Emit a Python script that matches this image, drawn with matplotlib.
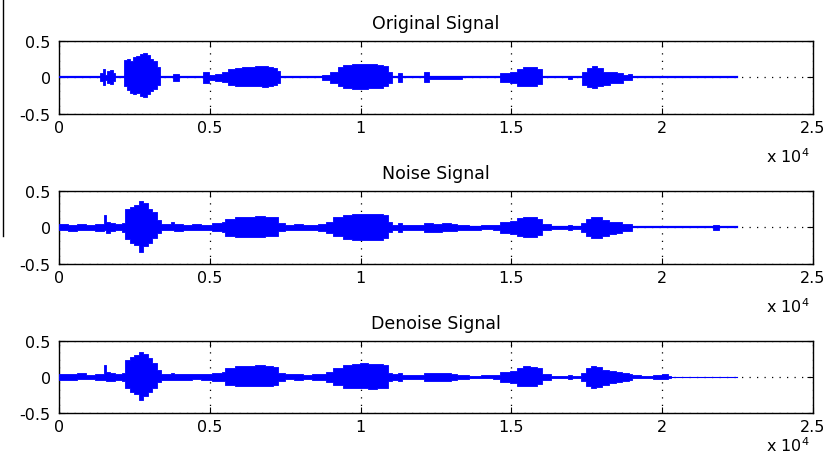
import matplotlib.pyplot as plt
from matplotlib.lines import Line2D

plt.rcParams["font.family"] = ["DejaVu Sans"]
plt.rcParams["axes.unicode_minus"] = False
plt.rcParams["mathtext.default"] = "regular"

titles = ["Original Signal", "Noise Signal", "Denoise Signal"]
signal_len = 22470
xticks = [0, 5000, 10000, 15000, 20000, 25000]
xtick_labels = ["0", "0.5", "1", "1.5", "2", "2.5"]
yticks = [-0.5, 0, 0.5]
ytick_labels = ["-0.5", "0", "0.5"]

# envelope of each waveform: sample index, upper and lower amplitude (held until next index)
orig_x = [0, 1360, 1450, 1540, 1600, 1700, 1800, 1860,
          2170, 2250, 2350, 2460, 2570, 2690, 2800, 2910, 3020, 3130, 3240, 3350,
          3790, 3980, 4770, 4970, 5170, 5390, 5610, 5840, 6060, 6280, 6500, 6720, 6940, 7110, 7220, 7330,
          8710, 8990, 9260, 9430, 9700, 9980, 10260, 10530, 10750, 10920, 11030,
          11230, 11380, 12100, 12260, 13370,
          14620, 14950, 15180, 15400, 15620, 15840, 16000, 16890, 17000,
          17330, 17500, 17660, 17830, 18050, 18270, 18490, 18710, 18880, 18990]
orig_hi = [0, 0.06, 0.11, 0.04, 0.09, 0.10, 0.06, 0,
           0.24, 0.25, 0.23, 0.28, 0.30, 0.32, 0.34, 0.31, 0.26, 0.23, 0.15, 0,
           0.05, 0, 0.08, 0.04, 0.05, 0.07, 0.11, 0.13, 0.14, 0.15, 0.16, 0.16, 0.15, 0.13, 0.09, 0,
           0.04, 0.08, 0.14, 0.17, 0.18, 0.19, 0.19, 0.17, 0.16, 0.08, 0,
           0.06, 0, 0.07, 0.02, 0,
           0.06, 0.07, 0.12, 0.14, 0.14, 0.11, 0, 0.02, 0,
           0.08, 0.13, 0.16, 0.13, 0.08, 0.07, 0.06, 0.04, 0.05, 0]
orig_lo = [0, -0.05, -0.10, -0.03, -0.08, -0.09, -0.05, 0,
           -0.11, -0.17, -0.21, -0.22, -0.21, -0.26, -0.27, -0.22, -0.19, -0.16, -0.10, 0,
           -0.05, 0, -0.07, -0.04, -0.05, -0.06, -0.10, -0.11, -0.12, -0.12, -0.12, -0.13, -0.11, -0.10, -0.07, 0,
           -0.03, -0.08, -0.12, -0.15, -0.16, -0.16, -0.15, -0.15, -0.12, -0.08, 0,
           -0.06, 0, -0.06, -0.02, 0,
           -0.06, -0.07, -0.11, -0.12, -0.12, -0.09, 0, -0.02, 0,
           -0.10, -0.13, -0.15, -0.12, -0.10, -0.08, -0.07, -0.04, -0.04, 0]

noisy_x = [0, 300, 600, 900, 1200, 1500, 1560, 1700, 1860, 2100,
           2200, 2350, 2500, 2650, 2800, 2950, 3100, 3250, 3380, 3700, 3800, 4100, 4400, 4700,
           5060, 5390, 5500, 5840, 6170, 6500, 6830, 7110, 7270, 7500, 7800, 8100, 8400, 8600,
           8850, 9100, 9430, 9700, 9980, 10260, 10530, 10750, 10920, 11030, 11230, 11380, 11700,
           12100, 12400, 12700, 13000, 13200, 13600, 14000, 14400,
           14620, 14950, 15180, 15400, 15620, 15840, 16000, 16300, 16890, 17000,
           17300, 17460, 17630, 17800, 18020, 18240, 18460, 18680, 18900, 19000, 21690, 21900]
noisy_hi = [0.05, 0.04, 0.05, 0.04, 0.05, 0.17, 0.08, 0.06, 0.05, 0.06,
            0.25, 0.28, 0.31, 0.36, 0.33, 0.26, 0.21, 0.10, 0.05, 0.07, 0.05, 0.04, 0.05, 0.04,
            0.06, 0.07, 0.12, 0.15, 0.15, 0.16, 0.15, 0.14, 0.06, 0.04, 0.05, 0.04, 0.04, 0.05,
            0.08, 0.14, 0.17, 0.18, 0.19, 0.19, 0.18, 0.17, 0.07, 0.04, 0.06, 0.04, 0.03,
            0.06, 0.05, 0.06, 0.05, 0.03, 0.02, 0.03, 0.03,
            0.08, 0.09, 0.13, 0.15, 0.14, 0.12, 0.05, 0.02, 0.03, 0.02,
            0.06, 0.12, 0.15, 0.14, 0.10, 0.08, 0.07, 0.05, 0.05, 0, 0.03, 0]
noisy_lo = [-0.04, -0.05, -0.04, -0.03, -0.05, -0.04, -0.07, -0.05, -0.04, -0.06,
            -0.16, -0.21, -0.24, -0.33, -0.26, -0.21, -0.15, -0.08, -0.04, -0.04, -0.05, -0.04, -0.04, -0.04,
            -0.05, -0.06, -0.12, -0.13, -0.13, -0.13, -0.12, -0.11, -0.05, -0.04, -0.04, -0.03, -0.04, -0.05,
            -0.08, -0.12, -0.16, -0.17, -0.17, -0.17, -0.17, -0.15, -0.06, -0.04, -0.06, -0.03, -0.03,
            -0.06, -0.06, -0.05, -0.05, -0.03, -0.03, -0.02, -0.03,
            -0.08, -0.09, -0.12, -0.13, -0.13, -0.10, -0.04, -0.02, -0.03, -0.02,
            -0.06, -0.12, -0.15, -0.14, -0.11, -0.09, -0.07, -0.05, -0.05, 0, -0.03, 0]

den_x = [0, 300, 600, 900, 1200, 1500, 1560, 1700, 1860, 2100,
         2200, 2350, 2500, 2650, 2800, 2950, 3100, 3250, 3380, 3700, 3800, 4100, 4400, 4700,
         5060, 5390, 5500, 5840, 6170, 6500, 6830, 7110, 7270, 7500, 7800, 8100, 8400, 8600,
         8850, 9100, 9430, 9700, 9980, 10260, 10530, 10750, 10920, 11030, 11230, 11380, 11700,
         12100, 12400, 12700, 13000, 13200, 13600, 14000, 14400,
         14620, 14950, 15180, 15400, 15620, 15840, 16000, 16300, 16890, 17000,
         17300, 17460, 17630, 17800, 18020, 18240, 18460, 18680, 18900,
         19000, 19300, 19700, 20000, 20200, 20300]
den_hi = [0.04, 0.04, 0.05, 0.03, 0.04, 0.16, 0.07, 0.05, 0.04, 0.05,
          0.24, 0.28, 0.31, 0.35, 0.32, 0.26, 0.20, 0.10, 0.04, 0.06, 0.04, 0.04, 0.04, 0.04,
          0.05, 0.07, 0.12, 0.15, 0.15, 0.16, 0.15, 0.14, 0.05, 0.04, 0.04, 0.03, 0.04, 0.04,
          0.07, 0.13, 0.17, 0.18, 0.19, 0.18, 0.18, 0.17, 0.06, 0.04, 0.06, 0.03, 0.03,
          0.05, 0.05, 0.06, 0.04, 0.03, 0.02, 0.03, 0.03,
          0.07, 0.08, 0.13, 0.15, 0.14, 0.12, 0.04, 0.02, 0.03, 0.02,
          0.05, 0.12, 0.15, 0.14, 0.10, 0.08, 0.07, 0.05, 0.04,
          0.03, 0.02, 0.03, 0.04, 0.02, 0]
den_lo = [-0.04, -0.04, -0.03, -0.03, -0.04, -0.04, -0.06, -0.05, -0.04, -0.05,
          -0.15, -0.21, -0.24, -0.32, -0.26, -0.21, -0.15, -0.07, -0.04, -0.04, -0.04, -0.04, -0.03, -0.04,
          -0.05, -0.06, -0.11, -0.12, -0.12, -0.13, -0.12, -0.11, -0.05, -0.03, -0.04, -0.03, -0.04, -0.04,
          -0.07, -0.11, -0.15, -0.16, -0.16, -0.17, -0.16, -0.15, -0.05, -0.04, -0.05, -0.03, -0.03,
          -0.05, -0.06, -0.05, -0.04, -0.03, -0.02, -0.02, -0.03,
          -0.07, -0.08, -0.12, -0.13, -0.13, -0.10, -0.04, -0.02, -0.03, -0.02,
          -0.06, -0.12, -0.15, -0.14, -0.11, -0.09, -0.07, -0.05, -0.04,
          -0.02, -0.02, -0.03, -0.03, -0.02, 0]

panels = [(orig_x, orig_hi, orig_lo, 1.6), (noisy_x, noisy_hi, noisy_lo, 1.6), (den_x, den_hi, den_lo, 0.8)]
rects = [(0.0713, 0.7522, 0.9117, 0.1573),
         (0.0713, 0.4289, 0.9117, 0.1573),
         (0.0713, 0.1078, 0.9117, 0.1552)]
mult_y = [-0.66, -0.66, -0.53]

BLUE = "#0000ff"

fig = plt.figure(figsize=(8.27, 4.64), dpi=100)

for (x, hi, lo, lw), rect, title, my in zip(panels, rects, titles, mult_y):
    ax = fig.add_axes(rect)
    ax.fill_between(x, lo, hi, step="post", color=BLUE, lw=0.6, zorder=3)
    ax.plot([0, signal_len], [0, 0], color=BLUE, lw=lw, zorder=3)
    ax.set_xlim(0, 25000)
    ax.set_ylim(-0.5, 0.5)
    ax.set_xticks(xticks)
    ax.set_xticklabels(xtick_labels)
    ax.set_yticks(yticks)
    ax.set_yticklabels(ytick_labels)
    ax.grid(True, color="k", linestyle=(0, (1, 5)), lw=0.9, zorder=1)
    ax.tick_params(direction="in", length=4, top=True, right=True, labelsize=11.5, width=0.8)
    ax.tick_params(axis="x", pad=4)
    ax.tick_params(axis="y", pad=6)
    for s in ax.spines.values():
        s.set_linewidth(1.0)
    ax.set_title(title, fontsize=12.5, pad=9.5)
    ax.text(0.995, my, r"x 10$^{4}$", transform=ax.transAxes, ha="right", va="baseline", fontsize=11.5)

# stray border line at the left edge of the original image
fig.add_artist(Line2D([3 / 827, 3 / 827], [1.0, 1 - 237 / 464], color="k", lw=1))

fig.savefig("out.png", dpi=100)
